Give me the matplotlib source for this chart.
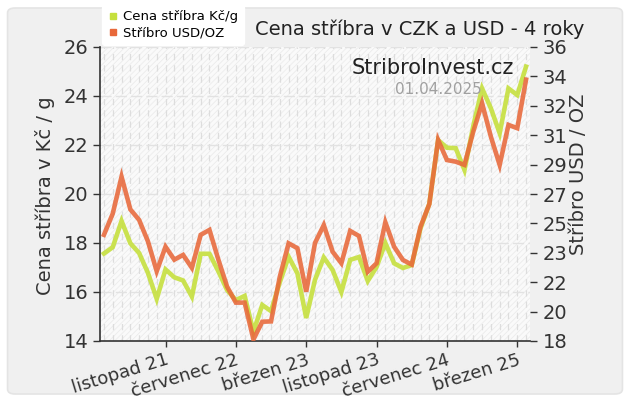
#!/usr/bin/env python
# Cena stribra v CZK a USD - 4 roky (mesicni hodnoty, duben 2021 - duben 2025)

import numpy as np
import matplotlib
matplotlib.use("Agg")
import matplotlib.pyplot as plt
from matplotlib.lines import Line2D
from matplotlib.patches import FancyBboxPatch, Rectangle

# data - Kc/g (leva osa) a USD/OZ (prava osa), jeden bod za mesic
czk_g = [17.57, 17.83, 18.90, 17.99, 17.59, 16.78, 15.72, 16.92, 16.60, 16.47,
         15.81, 17.56, 17.56, 16.85, 16.08, 15.67, 15.84, 14.38, 15.47, 15.22,
         16.40, 17.44, 16.76, 14.94, 16.50, 17.41, 16.90, 16.00, 17.31, 17.43,
         16.45, 17.02, 18.00, 17.17, 16.98, 17.10, 18.60, 19.60, 22.20, 21.89,
         21.87, 20.98, 22.78, 24.31, 23.50, 22.48, 24.31, 24.04, 25.20]
usd_oz = [24.50, 25.80, 28.06, 26.06, 25.41, 24.10, 22.27, 23.77, 22.98, 23.27,
          22.48, 24.50, 24.80, 23.00, 21.33, 20.35, 20.35, 18.10, 19.18, 19.20,
          21.94, 23.98, 23.68, 21.02, 24.00, 25.10, 23.47, 22.76, 24.74, 24.43,
          22.24, 22.76, 25.27, 23.77, 22.96, 22.68, 25.00, 26.38, 30.31, 29.08,
          28.98, 28.78, 30.82, 32.56, 30.51, 28.78, 31.23, 31.03, 34.00]
tick_idx = [7, 15, 23, 31, 39, 47]
tick_labels = ["listopad 21", "červenec 22", "březen 23",
               "listopad 23", "červenec 24", "březen 25"]

GREEN = "#c6e03e"
ORANGE = "#e8683a"

plt.rcParams['font.family'] = ['DejaVu Sans']
plt.rcParams['hatch.linewidth'] = 0.6
plt.rcParams['hatch.color'] = '#ebebeb'

fig = plt.figure(figsize=(6.3, 4.0), dpi=100, facecolor='white')

# sedy podklad s kulatymi rohy
bg = FancyBboxPatch((0.012, 0.015), 0.976, 0.965, boxstyle="round,pad=0,rounding_size=0.012",
                    transform=fig.transFigure, facecolor='#f0f0f0', edgecolor='#e4e4e4',
                    lw=1.2, zorder=-10)
fig.patches.append(bg)

ax = fig.add_axes([100/630, 1-341/400, 430/630, 294/400])
ax.set_facecolor('#fafafa')
ax.add_patch(Rectangle((0, 0), 1, 1, transform=ax.transAxes, facecolor='none',
                       hatch='//////', edgecolor='#ececec', lw=0, zorder=0))

x = np.arange(len(czk_g))
ax.set_xlim(-0.45, len(czk_g) - 0.55)
ax.set_ylim(14, 26)
ax.set_yticks([14, 16, 18, 20, 22, 24, 26])
ax.set_xticks(x, minor=True)
ax.set_xticks(tick_idx)
ax.set_xticklabels(tick_labels, rotation=17, ha='right', va='top',
                   rotation_mode='anchor', fontsize=13, color='#333333')
ax.tick_params(axis='y', labelsize=14, colors='#333333', length=5, width=1)
ax.tick_params(axis='x', which='major', length=4, width=1, colors='#333333', pad=3)
ax.tick_params(axis='x', which='minor', length=0)

ax.grid(axis='x', which='both', color='#dddddd', lw=0.9, ls=(0, (5, 4)))
ax.grid(axis='y', which='major', color='#e2e2e2', lw=1.0, ls=(0, (8, 3)))
ax.set_axisbelow(True)
for s in ['top', 'right']:
    ax.spines[s].set_visible(False)
for s in ['left', 'bottom']:
    ax.spines[s].set_color('#333333')
    ax.spines[s].set_linewidth(1.2)

ax2 = ax.twinx()
ax2.set_ylim(18, 36)
rticks = np.linspace(18, 36, 11)
ax2.set_yticks(rticks)
ax2.set_yticklabels(["%.0f" % t for t in rticks])
ax2.tick_params(axis='y', labelsize=14, colors='#333333', length=5, width=1, pad=4)
for s in ['top', 'right', 'left', 'bottom']:
    ax2.spines[s].set_visible(False)

# cary
ax.plot(x, czk_g, color=GREEN, lw=3.3, alpha=0.9, solid_joinstyle='miter', zorder=3)
ax2.plot(x, usd_oz, color=ORANGE, lw=3.3, alpha=0.88, solid_joinstyle='miter', zorder=4)

# texty
fig.text(255/630, 1-29/400, "Cena stříbra v CZK a USD - 4 roky", fontsize=14,
         color='#222222', ha='left', va='center')
fig.text(45/630, 1-196/400, "Cena stříbra v Kč / g", fontsize=14, rotation=90,
         color='#333333', ha='center', va='center')
fig.text(579/630, 1-174/400, "Stříbro USD / OZ", fontsize=14, rotation=90,
         color='#333333', ha='center', va='center')
fig.text(433/630, 1-68/400, "StribroInvest.cz", fontsize=15, color='#222222',
         ha='center', va='center')
fig.text(438/630, 1-90/400, "01.04.2025", fontsize=11, color='#a0a0a0',
         ha='center', va='center')

# legenda
handles = [Line2D([], [], ls='none', marker='s', ms=5, color=GREEN),
           Line2D([], [], ls='none', marker='s', ms=5, color=ORANGE)]
leg = fig.legend(handles, ["Cena stříbra Kč/g", "Stříbro USD/OZ"],
                 loc='upper left', bbox_to_anchor=(102/630, 1-5/400), fontsize=9.5,
                 frameon=True, fancybox=True, framealpha=1, edgecolor='white',
                 handlelength=0.8, handletextpad=0.4, labelspacing=0.25,
                 borderpad=0.4, borderaxespad=0)
leg.get_frame().set_facecolor('white')

fig.savefig("out.png", dpi=100, facecolor=fig.get_facecolor())
